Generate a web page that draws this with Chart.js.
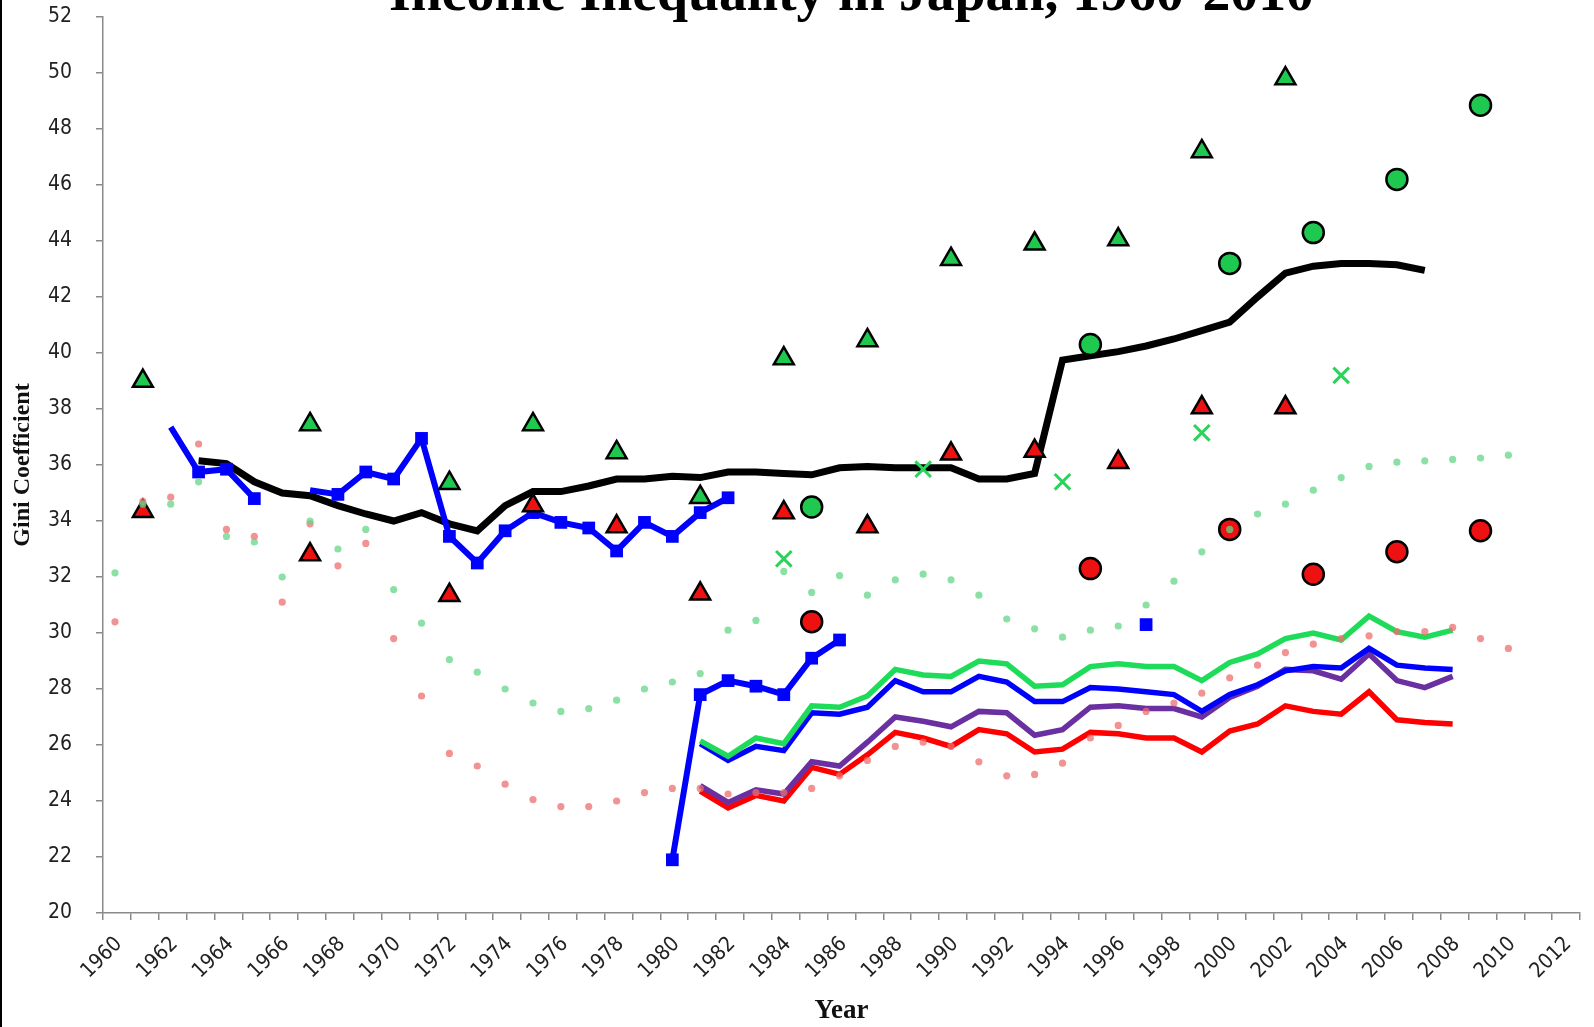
<!DOCTYPE html>
<html>
<head>
<meta charset="utf-8">
<title>Income Inequality in Japan, 1960-2010</title>
<script src="https://cdn.jsdelivr.net/npm/chart.js@4.4.1/dist/chart.umd.min.js"></script>
<style>
  html, body { margin: 0; padding: 0; background: #fff; }
  #wrap { position: relative; width: 1594px; height: 1027px; }
  #wrap::before { content: ""; position: absolute; left: 0; top: 0; bottom: 0; width: 2px; background: #000; }
  canvas { display: block; }
</style>
</head>
<body>
<div id="wrap"><canvas id="giniChart" width="1594" height="1027"></canvas></div>
<script>
// Chart title (drawn by a small plugin, it runs off the top edge like the original)
const TITLE = "Income Inequality in Japan, 1960-2010";

// points sit part-way through each year on the axis
const X_SHIFT = 0.43;

function range(a, b) {
  let out = [];
  for (let y = a; y <= b; y++) out.push(y);
  return out;
}

// --- survey markers (triangles) ---
const surveyYears = [1961, 1967, 1972, 1975, 1978, 1981, 1984, 1987, 1990, 1993, 1996, 1999, 2002];
const greenTriangles = [39.0, 37.45, 35.35, 37.45, 36.45, 34.85, 39.8, 40.45, 43.35, 43.9, 44.05, 47.2, 49.8];
const redTriangles = [34.35, 32.8, 31.35, 34.55, 33.8, 31.4, 34.3, 33.8, 36.4, 36.5, 36.1, 38.05, 38.05];

// --- circles ---
const circleYears = [1985, 1995, 2000, 2003, 2006, 2009];
const greenCircles = [34.5, 40.3, 43.2, 44.3, 46.2, 48.85];
const redCircles = [30.4, 32.3, 33.7, 32.1, 32.9, 33.65];

// --- crosses ---
const crossYears = [1984, 1989, 1994, 1999, 2004];
const greenCrosses = [32.65, 35.85, 35.4, 37.15, 39.2];

// --- single blue square ---
const loneYears = [1997];
const loneBlue = [30.3];

// --- black line ---
const blackYears = range(1963, 2007);
const blackLine = [36.15, 36.05, 35.4, 35.0, 34.9, 34.55, 34.25, 34.0, 34.3, 33.9,
                   33.65, 34.55, 35.05, 35.05, 35.25, 35.5, 35.5, 35.6, 35.55, 35.75,
                   35.75, 35.7, 35.65, 35.9, 35.95, 35.9, 35.9, 35.9, 35.5, 35.5,
                   35.7, 39.75, 39.9, 40.05, 40.25, 40.5, 40.8, 41.1, 42.0, 42.85,
                   43.1, 43.2, 43.2, 43.15, 42.95];

// --- blue lines with squares ---
const blueEarlyYears = range(1962, 1965);
const blueEarly = [37.35, 35.75, 35.85, 34.8];
const blueMidYears = range(1967, 1982);
const blueMid = [35.1, 34.95, 35.75, 35.5, 36.95, 33.45, 32.5, 33.65, 34.3, 33.95,
                 33.75, 32.93, 33.95, 33.45, 34.3, 34.83];
const blueLateYears = range(1980, 1986);
const blueLate = [21.9, 27.8, 28.3, 28.1, 27.8, 29.1, 29.75];

// --- four plain lines 1981-2008 ---
const lineYears = range(1981, 2008);
const greenLine = [26.15, 25.6, 26.25, 26.05, 27.4, 27.35, 27.75, 28.7, 28.5, 28.45,
                   29.0, 28.9, 28.1, 28.15, 28.8, 28.9, 28.8, 28.8, 28.3, 28.95,
                   29.25, 29.8, 30.0, 29.75, 30.6, 30.05, 29.85, 30.1];
const blueLine = [26.05, 25.45, 25.95, 25.8, 27.15, 27.1, 27.35, 28.3, 27.9, 27.9,
                  28.45, 28.25, 27.55, 27.55, 28.05, 28.0, 27.9, 27.8, 27.2, 27.8,
                  28.15, 28.65, 28.8, 28.75, 29.45, 28.85, 28.75, 28.7];
const purpleLine = [24.55, 23.95, 24.4, 24.25, 25.4, 25.25, 26.1, 27.0, 26.85, 26.65,
                    27.2, 27.15, 26.35, 26.55, 27.35, 27.4, 27.3, 27.3, 27.0, 27.7,
                    28.1, 28.7, 28.65, 28.35, 29.25, 28.3, 28.05, 28.45];
const redLine = [24.35, 23.75, 24.2, 24.0, 25.2, 24.95, 25.65, 26.45, 26.25, 25.95,
                 26.55, 26.4, 25.75, 25.85, 26.45, 26.4, 26.25, 26.25, 25.75, 26.5,
                 26.75, 27.4, 27.2, 27.1, 27.9, 26.9, 26.8, 26.75];

// --- faint dotted series 1960-2010 ---
const dotYears = range(1960, 2010);
const greenDots = [32.15, 34.6, 34.6, 35.4, 33.45, 33.25, 32.0, 34.0, 33.0, 33.7,
                   31.55, 30.35, 29.05, 28.6, 28.0, 27.5, 27.2, 27.3, 27.6, 28.0,
                   28.25, 28.55, 30.1, 30.45, 32.2, 31.45, 32.05, 31.35, 31.9, 32.1,
                   31.9, 31.35, 30.5, 30.15, 29.85, 30.1, 30.25, 31.0, 31.85, 32.9,
                   33.7, 34.25, 34.6, 35.1, 35.55, 35.95, 36.1, 36.15, 36.2, 36.25,
                   36.35];
const redDots = [30.4, 34.7, 34.85, 36.75, 33.7, 33.45, 31.1, 33.9, 32.4, 33.2,
                 29.8, 27.75, 25.7, 25.25, 24.6, 24.05, 23.8, 23.8, 24.0, 24.3,
                 24.45, 24.45, 24.25, 24.3, 24.3, 24.45, 24.9, 25.45, 25.95, 26.1,
                 25.95, 25.4, 24.9, 24.95, 25.35, 26.25, 26.7, 27.2, 27.5, 27.85,
                 28.4, 28.85, 29.3, 29.6, 29.8, 29.9, 30.05, 30.05, 30.2, 29.8,
                 29.45];

const TICK_FONT = "'Liberation Sans Narrow', 'DejaVu Sans Condensed', 'Roboto Condensed', sans-serif";
const SERIF = "'Liberation Serif', 'DejaVu Serif', serif";
const AXIS_GREY = "#8a8a8a";

function pts(years, vals) {
  return years.map((y, i) => ({ x: y + X_SHIFT, y: vals[i] }));
}

function dots(years, vals, color) {
  return { data: pts(years, vals), pointRadius: 3.6, pointHoverRadius: 3.6,
           backgroundColor: color, borderWidth: 0, showLine: false };
}

function markers(years, vals, style, fill, radius) {
  return { data: pts(years, vals), pointStyle: style, pointRadius: radius, pointHoverRadius: radius,
           backgroundColor: fill, borderColor: "#000", borderWidth: 2.5, showLine: false };
}

function plainLine(years, vals, color, width) {
  return { data: pts(years, vals), showLine: true, borderColor: color, borderWidth: width,
           pointRadius: 0, pointHoverRadius: 0, backgroundColor: color, tension: 0 };
}

function squareLine(years, vals, radii) {
  return { data: pts(years, vals), showLine: true, borderColor: "#0000ff", borderWidth: 6,
           pointStyle: "rect", pointRadius: radii, pointHoverRadius: radii, pointBorderWidth: 0,
           backgroundColor: "#0000ff", pointBackgroundColor: "#0000ff", tension: 0 };
}

// drop the extra room Chart.js keeps for edge labels, so the plot box is set by the layout padding
function fixBox(size, key) {
  return (s) => {
    s[key] = size;
    s.paddingLeft = 0; s.paddingRight = 0; s.paddingTop = 0; s.paddingBottom = 0;
  };
}

// first dataset is painted last (on top)
const datasets = [
  dots(dotYears, greenDots, "rgba(100, 215, 135, 0.75)"),
  dots(dotYears, redDots, "rgba(238, 110, 110, 0.75)"),
  markers(surveyYears, greenTriangles, "triangle", "#1fc94f", 11.5),
  markers(surveyYears, redTriangles, "triangle", "#ee1111", 11.5),
  markers(circleYears, greenCircles, "circle", "#1fc94f", 10.5),
  markers(circleYears, redCircles, "circle", "#ee1111", 10.5),
  { data: pts(crossYears, greenCrosses), pointStyle: "crossRot", pointRadius: 11, pointHoverRadius: 11,
    borderColor: "#2ad35a", borderWidth: 3, showLine: false },
  { data: pts(loneYears, loneBlue), pointStyle: "rect", pointRadius: 9, pointHoverRadius: 9,
    backgroundColor: "#0000ff", borderWidth: 0, showLine: false },
  squareLine(blueEarlyYears, blueEarly, [0, 9, 9, 9]),
  squareLine(blueMidYears, blueMid, blueMid.map((v, i) => i === 0 ? 0 : 9)),
  squareLine(blueLateYears, blueLate, 9),
  { data: pts(blackYears, blackLine), showLine: true, borderColor: "#000", borderWidth: 7,
    pointRadius: 0, pointHoverRadius: 0, tension: 0 },
  plainLine(lineYears, greenLine, "#1edc5a", 5.5),
  plainLine(lineYears, blueLine, "#0000ff", 5.5),
  plainLine(lineYears, purpleLine, "#6a2fa0", 5.5),
  plainLine(lineYears, redLine, "#ff0000", 5.5)
];

const clippedTitle = {
  id: "clippedTitle",
  afterDraw(chart) {
    const ctx = chart.ctx;
    ctx.save();
    let size = 40;
    ctx.font = "bold " + size + "px " + SERIF;
    size = size * 925 / ctx.measureText(TITLE).width;
    ctx.font = "bold " + size + "px " + SERIF;
    ctx.fillStyle = "#000";
    ctx.textAlign = "center";
    ctx.textBaseline = "alphabetic";
    ctx.fillText(TITLE, (chart.chartArea.left + chart.chartArea.right) / 2 + 10, 10);
    ctx.restore();
  }
};

const ctx = document.getElementById("giniChart").getContext("2d");
new Chart(ctx, {
  type: "scatter",
  data: { datasets: datasets },
  plugins: [clippedTitle],
  options: {
    responsive: false,
    animation: false,
    layout: { padding: { top: 17, right: 4, left: 0, bottom: 0 } },
    plugins: { legend: { display: false }, tooltip: { enabled: false } },
    scales: {
      x: {
        type: "linear",
        min: 1960,
        max: 2013,
        afterFit: fixBox(114, "height"),
        border: { color: AXIS_GREY, width: 1.5 },
        grid: { drawOnChartArea: false, drawTicks: true, tickLength: 7, color: AXIS_GREY, lineWidth: 1.5 },
        ticks: {
          stepSize: 1,
          autoSkip: false,
          minRotation: 45,
          maxRotation: 45,
          labelOffset: 16,
          padding: 12,
          color: "#222",
          font: { family: TICK_FONT, size: 21 },
          callback: (v) => (v % 2 === 0 ? String(v) : "")
        },
        title: { display: true, text: "Year", color: "#111", font: { family: SERIF, size: 27, weight: "bold" }, padding: { top: 0, bottom: 0 } }
      },
      y: {
        min: 20,
        max: 52,
        afterFit: fixBox(103, "width"),
        border: { color: AXIS_GREY, width: 1.5 },
        grid: { drawOnChartArea: false, drawTicks: true, tickLength: 7, color: AXIS_GREY, lineWidth: 1.5 },
        ticks: {
          stepSize: 2,
          padding: 24,
          color: "#222",
          font: { family: TICK_FONT, size: 21 },
          callback: (v) => String(v)
        },
        title: { display: true, text: "Gini Coefficient", color: "#111", font: { family: SERIF, size: 24, weight: "bold" }, padding: { top: 8, bottom: 0 } }
      }
    }
  }
});
</script>
</body>
</html>
